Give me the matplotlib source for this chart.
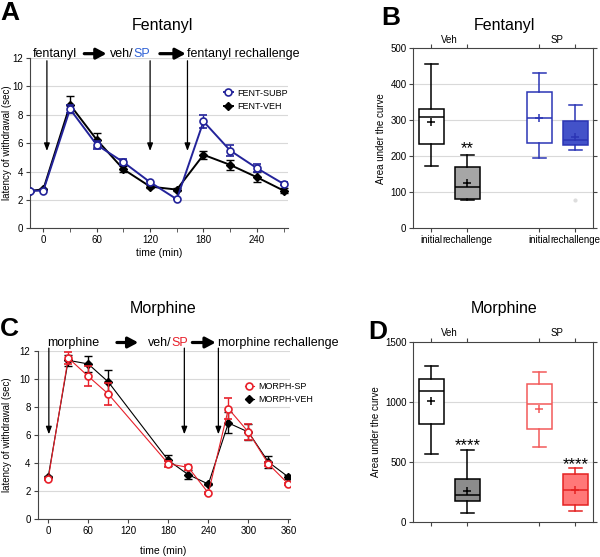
import matplotlib
matplotlib.use("Agg")
import matplotlib.pyplot as plt
from matplotlib.ticker import MultipleLocator

plt.rcParams['font.family'] = ['Liberation Sans', 'DejaVu Sans']

# ---- panel A data (fentanyl time course) ----
fent_time = [-15, 0, 30, 60, 90, 120, 150, 180, 210, 240, 270]
fent_subp = [2.64, 2.66, 8.4, 5.88, 4.66, 3.25, 2.05, 7.53, 5.48, 4.24, 3.13]
fent_subp_err = [0, 0, 0.3, 0.3, 0.2, 0.1, 0, 0.45, 0.4, 0.3, 0.1]
fent_veh = [2.64, 2.75, 8.7, 6.24, 4.16, 2.94, 2.73, 5.18, 4.47, 3.6, 2.66]
fent_veh_err = [0, 0.05, 0.6, 0.5, 0.2, 0.1, 0.1, 0.3, 0.35, 0.35, 0.2]
fent_arrow_times = [4, 120, 162]

# ---- panel C data (morphine time course) ----
morph_time = [0, 30, 60, 90, 180, 210, 240, 270, 300, 330, 360]
morph_sp = [2.86, 11.5, 10.19, 8.93, 3.95, 3.69, 1.86, 7.88, 6.21, 3.93, 2.5]
morph_sp_err = [0.1, 0.4, 0.7, 0.8, 0.2, 0.2, 0.05, 0.75, 0.6, 0.15, 0.1]
morph_veh = [3.0, 11.33, 11.07, 9.79, 4.19, 3.17, 2.5, 6.86, 6.21, 4.07, 3.0]
morph_veh_err = [0.1, 0.4, 0.6, 0.85, 0.4, 0.3, 0.1, 0.75, 0.6, 0.45, 0.15]
morph_arrow_times = [1, 204, 255]

# ---- panels B / D data (area under the curve boxes) ----
box_labels = ['initial', 'rechallenge', 'initial', 'rechallenge']
group_labels = ['Veh', 'SP']

fent_whislo = [174, 80, 195, 218]
fent_q1 = [234, 81, 237, 231]
fent_med = [310, 116, 308, 246]
fent_q3 = [331, 171, 380, 298]
fent_whishi = [458, 203, 431, 344]
fent_mean = [295, 125, 306, 255]
fent_fliers = [[], [], [], [79]]

morph_whislo = [564, 69, 619, 92]
morph_q1 = [811, 175, 769, 136]
morph_med = [1089, 219, 978, 267]
morph_q3 = [1192, 356, 1144, 394]
morph_whishi = [1297, 594, 1247, 450]
morph_mean = [1003, 258, 939, 264]
morph_fliers = [[], [], [], []]

NAVY = '#23239a'
SPBLUE = '#2f62d6'
RED = '#e8202a'
GRID = '#d9d9d9'

fig = plt.figure(figsize=(6, 5.57), dpi=100)


def time_course(ax, t, a, a_err, b, b_err, col, lw, xlim, xmax_tick, ylab_x):
    ax.errorbar(t, b, yerr=b_err, color='black', lw=lw, marker='D', ms=4.5,
                capsize=3, elinewidth=1, mfc='black', mec='black', zorder=3)
    ax.errorbar(t, a, yerr=a_err, color=col, lw=lw, marker='o', ms=5,
                capsize=3, elinewidth=1, mfc='white', mec=col, mew=1.2, zorder=4)
    ax.set_xlim(*xlim)
    ax.set_ylim(0, 12)
    ax.set_yticks(range(0, 13, 2))
    ax.set_xticks(range(0, xmax_tick + 1, 60))
    ax.yaxis.grid(True, color=GRID, lw=0.8)
    ax.set_axisbelow(True)
    for s in ['top', 'right']:
        ax.spines[s].set_visible(False)
    for s in ['left', 'bottom']:
        ax.spines[s].set_color('#444444')
    ax.tick_params(labelsize=7, length=3, color='#444444', pad=2)
    ax.set_ylabel('latency of withdrawal (sec)', fontsize=7)
    ax.yaxis.set_label_coords(ylab_x, 0.5)


def arrows(ax, times, y0, y1):
    for x in times:
        ax.annotate('', xy=(x, y1), xytext=(x, y0), annotation_clip=False,
                    arrowprops=dict(arrowstyle='-|>,head_length=0.45,head_width=0.17',
                                    lw=0.9, color='black', shrinkA=0, shrinkB=0))


def thick_arrow(ax, x0, x1, y):
    ax.annotate('', xy=(x1, y), xytext=(x0, y), annotation_clip=False,
                arrowprops=dict(arrowstyle='-|>,head_length=0.6,head_width=0.32',
                                lw=2.3, color='black', shrinkA=0, shrinkB=0))


# ---------------- A ----------------
axA = fig.add_axes([0.05, 0.59, 0.43, 0.306])
time_course(axA, fent_time, fent_subp, fent_subp_err, fent_veh, fent_veh_err,
            NAVY, 1.4, (-15, 275), 240, -0.07)
axA.xaxis.set_minor_locator(MultipleLocator(30))
axA.tick_params(which='minor', length=3, color='#444444')
axA.set_xlabel('time (min)', fontsize=7.5, labelpad=2)
arrows(axA, fent_arrow_times, 11.8, 5.45)
axA.text(-12, 12.1, 'fentanyl', fontsize=9)
thick_arrow(axA, 46, 71, 12.3)
axA.text(75, 12.1, 'veh/', fontsize=9)
axA.text(101.5, 12.1, 'SP', fontsize=9, color=SPBLUE)
thick_arrow(axA, 131, 160, 12.3)
axA.text(162, 12.1, 'fentanyl rechallenge', fontsize=9)
axA.legend([axA.containers[1][0], axA.containers[0][0]], ['FENT-SUBP', 'FENT-VEH'],
           loc='center left', bbox_to_anchor=(0.72, 0.755), frameon=False,
           fontsize=6.5, handlelength=1.0, handletextpad=0.5, labelspacing=0.45)

# ---------------- C ----------------
axC = fig.add_axes([0.0625, 0.068, 0.4205, 0.302])
time_course(axC, morph_time, morph_sp, morph_sp_err, morph_veh, morph_veh_err,
            RED, 0.8, (-16, 362), 360, -0.101)
axC.set_xlabel('time (min)', fontsize=7.5, labelpad=7)
arrows(axC, morph_arrow_times, 12.2, 6.05)
axC.text(-2, 12.35, 'morphine', fontsize=9)
thick_arrow(axC, 103, 135, 12.6)
axC.text(149, 12.35, 'veh/', fontsize=9)
axC.text(184, 12.35, 'SP', fontsize=9, color=RED)
thick_arrow(axC, 216, 251, 12.6)
axC.text(255, 12.35, 'morphine rechallenge', fontsize=9)
axC.legend([axC.containers[1][0], axC.containers[0][0]], ['MORPH-SP', 'MORPH-VEH'],
           loc='center left', bbox_to_anchor=(0.79, 0.75), frameon=False,
           fontsize=6.5, handlelength=1.0, handletextpad=0.5, labelspacing=0.45)


# ---------------- B / D ----------------
def box_panel(ax, whislo, q1, med, q3, whishi, mean, fliers, edges, faces,
              ymax, ystep, grid_step, show_labels):
    positions = [1, 2, 4, 5]
    stats = []
    for i in range(4):
        stats.append(dict(whislo=whislo[i], q1=q1[i], med=med[i], q3=q3[i],
                          whishi=whishi[i], mean=mean[i], fliers=fliers[i]))
    bp = ax.bxp(stats, positions=positions, widths=0.68, patch_artist=True,
                showmeans=True, showfliers=True)
    for i in range(4):
        c = edges[i]
        bp['boxes'][i].set(facecolor=faces[i], edgecolor=c, lw=1.1)
        bp['medians'][i].set(color=c, lw=1.1)
        bp['means'][i].set(marker='+', mfc=c, mec=c, ms=6, mew=1.1)
        for k in (2 * i, 2 * i + 1):
            bp['whiskers'][k].set(color=c, lw=1.1)
            bp['caps'][k].set(color=c, lw=1.1)
        bp['fliers'][i].set(marker='o', ms=2, mfc='#dddddd', mec='#dddddd')
    ax.set_xlim(0.5, 5.5)
    ax.set_ylim(0, ymax)
    ax.set_yticks(range(0, ymax + 1, ystep))
    ax.set_xticks(positions)
    ax.set_xticklabels(box_labels if show_labels else [''] * 4, fontsize=6.8)
    for g in range(grid_step, ymax, grid_step):
        ax.axhline(g, color=GRID, lw=0.8, zorder=0)
    ax.tick_params(top=True, right=True, labelsize=7, length=3,
                   color='#444444', pad=2)
    for s in ax.spines.values():
        s.set_color('#444444')
    ax.set_ylabel('Area under the curve', fontsize=7, labelpad=3)
    trans = ax.get_xaxis_transform()
    ax.text(1.5, 1.02, group_labels[0], transform=trans, ha='center', va='bottom', fontsize=7)
    ax.text(4.5, 1.02, group_labels[1], transform=trans, ha='center', va='bottom', fontsize=7)


axB = fig.add_axes([0.689, 0.59, 0.3, 0.323])
box_panel(axB, fent_whislo, fent_q1, fent_med, fent_q3, fent_whishi, fent_mean,
          fent_fliers, ['black', 'black', '#2b35b5', '#2b35b5'],
          ['white', '#a6a6a6', 'white', '#4352c9'], 500, 100, 100, True)
axB.text(2, 222, '**', ha='center', va='center', fontsize=12)

axD = fig.add_axes([0.689, 0.0634, 0.3, 0.3231])
box_panel(axD, morph_whislo, morph_q1, morph_med, morph_q3, morph_whishi, morph_mean,
          morph_fliers, ['black', 'black', '#f25a5a', '#e42222'],
          ['white', '#8c8c8c', 'white', '#ff7878'], 1500, 500, 500, False)
axD.text(2, 630, '****', ha='center', va='center', fontsize=12)
axD.text(5, 478, '****', ha='center', va='center', fontsize=12)

# titles and panel letters
fig.text(0.27, 0.955, 'Fentanyl', ha='center', va='center', fontsize=11.5)
fig.text(0.84, 0.955, 'Fentanyl', ha='center', va='center', fontsize=11.5)
fig.text(0.272, 0.447, 'Morphine', ha='center', va='center', fontsize=11.5)
fig.text(0.84, 0.447, 'Morphine', ha='center', va='center', fontsize=11.5)
fig.text(0.0, 0.998, 'A', ha='left', va='top', fontsize=19, fontweight='bold')
fig.text(0.636, 0.99, 'B', ha='left', va='top', fontsize=19, fontweight='bold')
fig.text(0.0, 0.43, 'C', ha='left', va='top', fontsize=19, fontweight='bold')
fig.text(0.613, 0.426, 'D', ha='left', va='top', fontsize=19, fontweight='bold')

fig.savefig('out.png', dpi=100)
